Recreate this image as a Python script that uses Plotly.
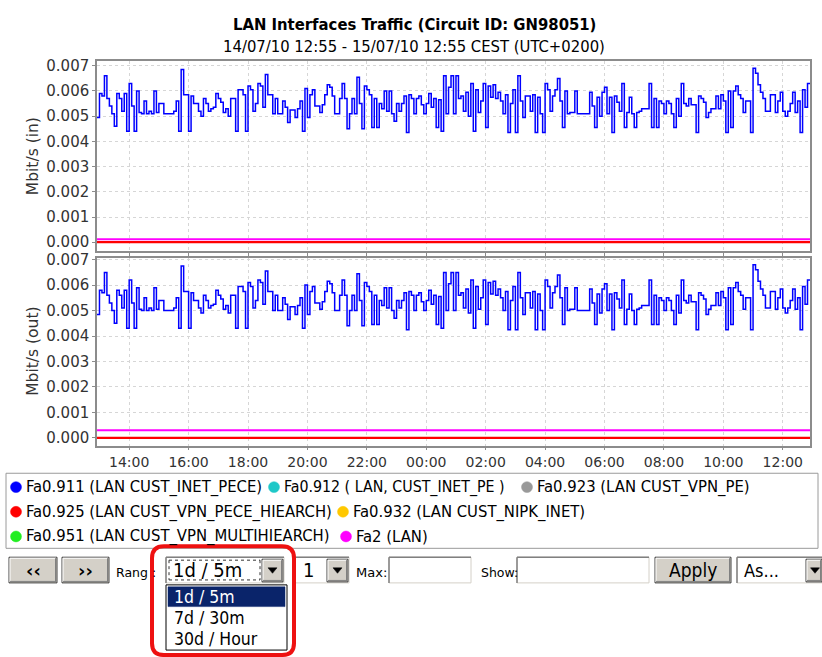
import plotly.graph_objects as go
from datetime import datetime, timedelta

W, H = 822, 657
def X(px): return px / W
def Y(py): return 1 - py / H

# ---------------- data ----------------
start = datetime(2010, 7, 14, 12, 55)
end = datetime(2010, 7, 15, 12, 55)

in_vals = [
    0.00495, 0.0059, 0.0058, 0.0066, 0.0057, 0.0054, 0.0051, 0.0046, 0.0059, 0.0057, 0.0052, 0.0059,
    0.0044, 0.0063, 0.0054, 0.0044, 0.0060, 0.00515, 0.0051, 0.0056, 0.0051, 0.0052, 0.0051, 0.0060,
    0.00515, 0.0055, 0.0055, 0.0051, 0.0051, 0.0051, 0.0051, 0.0052, 0.0056, 0.0044, 0.00685, 0.00585,
    0.00585, 0.0044, 0.0058, 0.0055, 0.0055, 0.0052, 0.0050, 0.0057, 0.0055, 0.0052, 0.0053, 0.00535,
    0.0059, 0.0057, 0.00555, 0.00515, 0.0053, 0.0050, 0.0057, 0.0057, 0.0044, 0.00605, 0.00605, 0.00585,
    0.0044, 0.0062, 0.00605, 0.0052, 0.0055, 0.0063, 0.0062, 0.00535, 0.00665, 0.00585, 0.00585, 0.0051,
    0.0057, 0.0051, 0.0051, 0.0056, 0.00535, 0.00475, 0.00525, 0.00525, 0.00495, 0.0053, 0.0056, 0.0044,
    0.0061, 0.00495, 0.00585, 0.00605, 0.0054, 0.0054, 0.00515, 0.00545, 0.00585, 0.00625, 0.00615, 0.0058,
    0.0051, 0.0051, 0.0057, 0.0063, 0.0057, 0.0045, 0.0051, 0.0057, 0.0051, 0.00655, 0.0055, 0.0045,
    0.0062, 0.00605, 0.00585, 0.00455, 0.0057, 0.00455, 0.0055, 0.0053, 0.0060, 0.0052, 0.0060, 0.0051,
    0.0048, 0.0055, 0.0052, 0.0055, 0.0058, 0.00435, 0.00585, 0.0057, 0.0051, 0.0057, 0.0058, 0.00545,
    0.0051, 0.0055, 0.0059, 0.00535, 0.0057, 0.00455, 0.00565, 0.0044, 0.0066, 0.0051, 0.00615, 0.0066,
    0.0051,
    0.0066, 0.0057, 0.0058, 0.0052, 0.00595, 0.0050, 0.0063, 0.0044, 0.00605, 0.00515, 0.0056, 0.0063,
    0.00455, 0.0062, 0.00575, 0.00625, 0.0057, 0.00595, 0.0056, 0.0051, 0.00585, 0.00435, 0.0055, 0.00605,
    0.00435, 0.0066, 0.0056, 0.00495, 0.0058, 0.0058, 0.0052, 0.00585, 0.00435, 0.00575, 0.0051, 0.00435,
    0.0063, 0.00605, 0.0052, 0.0058, 0.00605, 0.0065, 0.0056, 0.00455, 0.0060, 0.0051, 0.00515, 0.00515,
    0.0060, 0.0051, 0.0051, 0.0051, 0.0051, 0.0051, 0.00595, 0.0054, 0.00455, 0.00575, 0.0050, 0.00595,
    0.00615, 0.0051, 0.00575, 0.00435, 0.0058, 0.00555, 0.0052, 0.0063, 0.00455, 0.00515, 0.00575, 0.0051,
    0.00455, 0.00515, 0.0052, 0.0053, 0.0053, 0.0053, 0.0063, 0.00455, 0.0057, 0.00455, 0.0056, 0.0055,
    0.0051, 0.0056, 0.0055, 0.0051, 0.00455, 0.0057, 0.0050, 0.0063, 0.0055, 0.0054, 0.0057, 0.00545,
    0.00545, 0.00435, 0.0058, 0.0057, 0.00555, 0.00495, 0.00515, 0.0053, 0.0053, 0.0058, 0.0053, 0.00585,
    0.0056, 0.00435, 0.0060, 0.00455, 0.0060, 0.0062, 0.00585, 0.0057, 0.00515, 0.0056, 0.0056, 0.00435,
    0.0069, 0.0067, 0.00625, 0.00595, 0.0057, 0.0052, 0.0052, 0.00585, 0.00585, 0.00515, 0.0056, 0.00595,
    0.0052, 0.0050, 0.0052, 0.0055, 0.00595, 0.00515, 0.0056, 0.00435, 0.00605, 0.00535, 0.0063,
]

out_vals = [
    0.00485, 0.0058, 0.0057, 0.0065, 0.0056, 0.0053, 0.0050, 0.0045, 0.0058, 0.0056, 0.0051, 0.0058,
    0.0043, 0.0062, 0.0053, 0.0043, 0.0059, 0.00505, 0.0050, 0.0055, 0.0050, 0.0051, 0.0050, 0.0059,
    0.00505, 0.0054, 0.0054, 0.0050, 0.0050, 0.0050, 0.0050, 0.0051, 0.0055, 0.0043, 0.00675, 0.00575,
    0.00575, 0.0043, 0.0057, 0.0054, 0.0054, 0.0051, 0.0049, 0.0056, 0.0054, 0.0051, 0.0052, 0.00525,
    0.0058, 0.0056, 0.00545, 0.00505, 0.0052, 0.0049, 0.0056, 0.0056, 0.0043, 0.00595, 0.00595, 0.00575,
    0.0043, 0.0061, 0.00595, 0.0051, 0.0054, 0.0062, 0.0061, 0.00525, 0.00655, 0.00575, 0.00575, 0.0050,
    0.0056, 0.0050, 0.0050, 0.0055, 0.00525, 0.00465, 0.00515, 0.00515, 0.00485, 0.0052, 0.0055, 0.0043,
    0.0060, 0.00485, 0.00575, 0.00595, 0.0053, 0.0053, 0.00505, 0.00535, 0.00575, 0.00615, 0.00605, 0.0057,
    0.0050, 0.0050, 0.0056, 0.0062, 0.0056, 0.0044, 0.0050, 0.0056, 0.0050, 0.00645, 0.0054, 0.0044,
    0.0061, 0.00595, 0.00575, 0.00445, 0.0056, 0.00445, 0.0054, 0.0052, 0.0059, 0.0051, 0.0059, 0.0050,
    0.0047, 0.0054, 0.0051, 0.0054, 0.0057, 0.00425, 0.00575, 0.0056, 0.0050, 0.0056, 0.0057, 0.00535,
    0.0050, 0.0054, 0.0058, 0.00525, 0.0056, 0.00445, 0.00555, 0.0043, 0.0065, 0.0050, 0.00605, 0.0065,
    0.0050,
    0.0065, 0.0056, 0.0057, 0.0051, 0.00585, 0.0049, 0.0062, 0.0043, 0.00595, 0.00505, 0.0055, 0.0062,
    0.00445, 0.0061, 0.00565, 0.00615, 0.0056, 0.00585, 0.0055, 0.0050, 0.00575, 0.00425, 0.0054, 0.00595,
    0.00425, 0.0065, 0.0055, 0.00485, 0.0057, 0.0057, 0.0051, 0.00575, 0.00425, 0.00565, 0.0050, 0.00425,
    0.0062, 0.00595, 0.0051, 0.0057, 0.00595, 0.0064, 0.0055, 0.00445, 0.0059, 0.0050, 0.00505, 0.00505,
    0.0059, 0.0050, 0.0050, 0.0050, 0.0050, 0.0050, 0.00585, 0.0053, 0.00445, 0.00565, 0.0049, 0.00585,
    0.00605, 0.0050, 0.00565, 0.00425, 0.0057, 0.00545, 0.0051, 0.0062, 0.00445, 0.00505, 0.00565, 0.0050,
    0.00445, 0.00505, 0.0051, 0.0052, 0.0052, 0.0052, 0.0062, 0.00445, 0.0056, 0.00445, 0.0055, 0.0054,
    0.0050, 0.0055, 0.0054, 0.0050, 0.00445, 0.0056, 0.0049, 0.0062, 0.0054, 0.0053, 0.0056, 0.00535,
    0.00535, 0.00425, 0.0057, 0.0056, 0.00545, 0.00485, 0.00505, 0.0052, 0.0052, 0.0057, 0.0052, 0.00575,
    0.0055, 0.00425, 0.0059, 0.00445, 0.0059, 0.0061, 0.00575, 0.0056, 0.00505, 0.0055, 0.0055, 0.00425,
    0.0068, 0.0066, 0.00615, 0.00585, 0.0056, 0.0051, 0.0051, 0.00575, 0.00575, 0.00505, 0.0055, 0.00585,
    0.0051, 0.0049, 0.0051, 0.0054, 0.00585, 0.00505, 0.0055, 0.00425, 0.00595, 0.00525, 0.0062,
]

fa2_in = 0.00012
fa2_out = 0.0003
zero_level = 0.0

legend_names = [
    "Fa0.911 (LAN CUST_INET_PECE)", "Fa0.912 ( LAN, CUST_INET_PE )", "Fa0.923 (LAN CUST_VPN_PE)",
    "Fa0.925 (LAN CUST_VPN_PECE_HIEARCH)", "Fa0.932 (LAN CUST_NIPK_INET)",
    "Fa0.951 (LAN CUST_VPN_MULTIHIEARCH)", "Fa2 (LAN)",
]
legend_colors = ["#0000ff", "#1ec8c8", "#999999", "#ff0000", "#ffc800", "#22ee22", "#ff00ff"]

y_ticks = [0.000, 0.001, 0.002, 0.003, 0.004, 0.005, 0.006, 0.007]
range_options = ["1d / 5m", "7d / 30m", "30d / Hour"]

# ---------------- figure ----------------
def times_for(vals):
    return [start + timedelta(minutes=5 * i) for i in range(len(vals))] + [end]

fig = go.Figure()
for row, vals, fa2 in ((1, in_vals, fa2_in), (2, out_vals, fa2_out)):
    xa = "x" if row == 1 else "x2"
    ya = "y" if row == 1 else "y2"
    for c in ["#1ec8c8", "#999999", "#ffc800", "#22ee22"]:
        fig.add_trace(go.Scatter(x=[start, end], y=[zero_level, zero_level], mode="lines",
                                 line=dict(color=c, width=1), xaxis=xa, yaxis=ya,
                                 showlegend=False, hoverinfo="skip"))
    fig.add_trace(go.Scatter(x=[start, end], y=[zero_level, zero_level], mode="lines",
                             line=dict(color="#ff0000", width=2.2), xaxis=xa, yaxis=ya,
                             showlegend=False))
    fig.add_trace(go.Scatter(x=[start, end], y=[fa2, fa2], mode="lines",
                             line=dict(color="#ff00ff", width=2), xaxis=xa, yaxis=ya,
                             showlegend=False))
    fig.add_trace(go.Scatter(x=times_for(vals), y=vals + [vals[-1]], mode="lines",
                             line=dict(color="#0000ff", width=1.5, shape="hv"),
                             xaxis=xa, yaxis=ya, showlegend=False))

FONT = "DejaVu Sans"
COND = "DejaVu Sans Condensed, DejaVu Sans"
x_common = dict(type="date", range=[start, end], dtick=2 * 3600 * 1000,
                tick0=datetime(2010, 7, 14, 14, 0), tickformat="%H:%M",
                showgrid=True, gridcolor="#d6d6d6", griddash="3px,3px", gridwidth=1,
                showline=True, linecolor="#8c8c8c", linewidth=1.5, mirror=True,
                ticks="outside", ticklen=3, tickcolor="#8c8c8c",
                tickfont=dict(family=FONT, size=14, color="#333333"),
                domain=[X(97), X(810)], zeroline=False)
y_common = dict(tickvals=y_ticks, tickformat=".3f",
                showgrid=True, gridcolor="#d6d6d6", griddash="3px,3px", gridwidth=1,
                showline=True, linecolor="#8c8c8c", linewidth=1.5, mirror=True,
                ticks="outside", ticklen=3, tickcolor="#8c8c8c",
                tickfont=dict(family=FONT, size=15, color="#333333"), zeroline=False)

fig.update_layout(
    width=W, height=H, margin=dict(l=0, r=0, t=0, b=0),
    paper_bgcolor="white", plot_bgcolor="white", showlegend=False,
    xaxis=dict(x_common, anchor="y", showticklabels=False),
    yaxis=dict(y_common, anchor="x", domain=[Y(247), Y(55)], range=[-0.000349, 0.007177]),
    xaxis2=dict(x_common, anchor="y2", showticklabels=True),
    yaxis2=dict(y_common, anchor="x2", domain=[Y(444), Y(254.5)], range=[-0.000307, 0.00705]),
)

ann = []
shapes = []
def text(x, y, s, size=13, color="black", anchor="left", family=FONT, angle=0):
    ann.append(dict(x=X(x), y=Y(y), xref="paper", yref="paper", text=s, showarrow=False,
                    xanchor=anchor, yanchor="middle", textangle=angle,
                    font=dict(family=family, size=size, color=color)))

def rect(x0, y0, x1, y1, fill="white", line="#7f7f7f", lw=1):
    shapes.append(dict(type="rect", xref="paper", yref="paper", x0=X(x0), x1=X(x1),
                       y0=Y(y1), y1=Y(y0), fillcolor=fill,
                       line=dict(color=line, width=lw)))

def seg(x0, y0, x1, y1, color, lw=1, dash="solid"):
    shapes.append(dict(type="line", xref="paper", yref="paper", x0=X(x0), x1=X(x1),
                       y0=Y(y0), y1=Y(y1), line=dict(color=color, width=lw, dash=dash)))

def tri(cx, cy, s=4.5):
    p = f"M {X(cx - s)},{Y(cy - s / 2)} L {X(cx + s)},{Y(cy - s / 2)} L {X(cx)},{Y(cy + s / 2 + 1)} Z"
    shapes.append(dict(type="path", xref="paper", yref="paper", path=p,
                       fillcolor="black", line=dict(color="black", width=0.5)))

def button(x0, y0, x1, y1):
    rect(x0, y0, x1, y1, fill="#d4d0c8", line="#404040", lw=1)
    seg(x0 + 1, y0 + 1, x1 - 1, y0 + 1, "white", 1)
    seg(x0 + 1, y0 + 1, x0 + 1, y1 - 1, "white", 1)
    seg(x0 + 1, y1 - 1.5, x1 - 1, y1 - 1.5, "#808080", 1)
    seg(x1 - 1.5, y0 + 1, x1 - 1.5, y1 - 1, "#808080", 1)

def field(x0, y0, x1, y1):
    rect(x0, y0, x1, y1, fill="white", line="#d4d0c8", lw=1)
    seg(x0, y0, x1, y0, "#808080", 1.5)
    seg(x0, y0, x0, y1, "#808080", 1.5)

# titles
text(414, 18, "<b>LAN Interfaces Traffic (Circuit ID: GN98051)</b>", 16.5, anchor="center", family=COND)
text(414, 40, "14/07/10 12:55 - 15/07/10 12:55 CEST (UTC+0200)", 16.5, anchor="center", family=COND)
text(33, 151, "Mbit/s (in)", 15.5, color="#333333", anchor="center", angle=-90)
text(33, 349, "Mbit/s (out)", 15.5, color="#333333", anchor="center", angle=-90)

# legend box
rect(6, 472, 818, 548, fill="white", line="#9a9a9a", lw=1)
legend_pos = [(16, 486), (274, 486), (527, 486), (16, 511), (343, 511), (16, 536), (346, 536)]
legend_sizes = [16.5, 15.8, 16.5, 16.5, 16.5, 16.5, 16.5]
for (cx, cy), name, col, fs in zip(legend_pos, legend_names, legend_colors, legend_sizes):
    shapes.append(dict(type="circle", xref="paper", yref="paper",
                       x0=X(cx - 5.5), x1=X(cx + 5.5), y0=Y(cy + 5.5), y1=Y(cy - 5.5),
                       fillcolor=col, line=dict(color=col, width=0.5)))
    text(cx + 8, cy, name, fs, family=COND)

# controls
button(9, 557, 57, 583); text(33, 570, "<b>‹‹</b>", 18, anchor="center")
button(62, 557, 109, 583); text(85.5, 570, "<b>››</b>", 18, anchor="center")
text(114, 572, "Rang", 12.5)
text(150, 572, ":", 12.5)
field(166, 557, 284, 583)
seg(169, 560, 260, 560, "#333333", 1, "dot"); seg(169, 580, 260, 580, "#333333", 1, "dot")
seg(169, 560, 169, 580, "#333333", 1, "dot"); seg(260, 560, 260, 580, "#333333", 1, "dot")
button(262, 559, 283, 582); tri(272.5, 570)
text(171, 570, range_options[0], 20, family=COND)
field(295, 557, 349, 583)
button(327, 559, 348, 582); tri(337.5, 570)
text(301, 570, "1", 20, family=COND)
text(354, 572, "Max:", 13)
field(389, 557, 471, 583)
text(479, 572, "Show:", 12.5)
field(517, 557, 649, 583)
button(655, 557, 731, 583); text(693, 570, "Apply", 19, anchor="center", family=COND)
field(737, 557, 822, 583)
text(742, 570, "As...", 18, family=COND)
button(806, 559, 822, 582); tri(815, 570)

# drop-down list
rect(166, 585, 287, 651, fill="white", line="#000000", lw=1)
rect(168, 587, 285, 607, fill="#0a246a", line="#0a246a", lw=0.5)
text(172, 597, range_options[0], 17.5, color="white", family=COND)
text(172, 619, range_options[1], 17.5, family=COND)
text(172, 640, range_options[2], 17.5, family=COND)

# red highlight
x1, y1, x2, y2, r = 152, 546, 294, 656, 12
path = (f"M {X(x1 + r)},{Y(y1)} L {X(x2 - r)},{Y(y1)} Q {X(x2)},{Y(y1)} {X(x2)},{Y(y1 + r)} "
        f"L {X(x2)},{Y(y2 - r)} Q {X(x2)},{Y(y2)} {X(x2 - r)},{Y(y2)} "
        f"L {X(x1 + r)},{Y(y2)} Q {X(x1)},{Y(y2)} {X(x1)},{Y(y2 - r)} "
        f"L {X(x1)},{Y(y1 + r)} Q {X(x1)},{Y(y1)} {X(x1 + r)},{Y(y1)} Z")
shapes.append(dict(type="path", xref="paper", yref="paper", path=path,
                   line=dict(color="#ee1111", width=4)))

fig.update_layout(annotations=ann, shapes=shapes)
fig.write_html("out.html", config={"displayModeBar": False},
               post_script="document.body.style.margin='0px';document.body.style.overflow='hidden';")
